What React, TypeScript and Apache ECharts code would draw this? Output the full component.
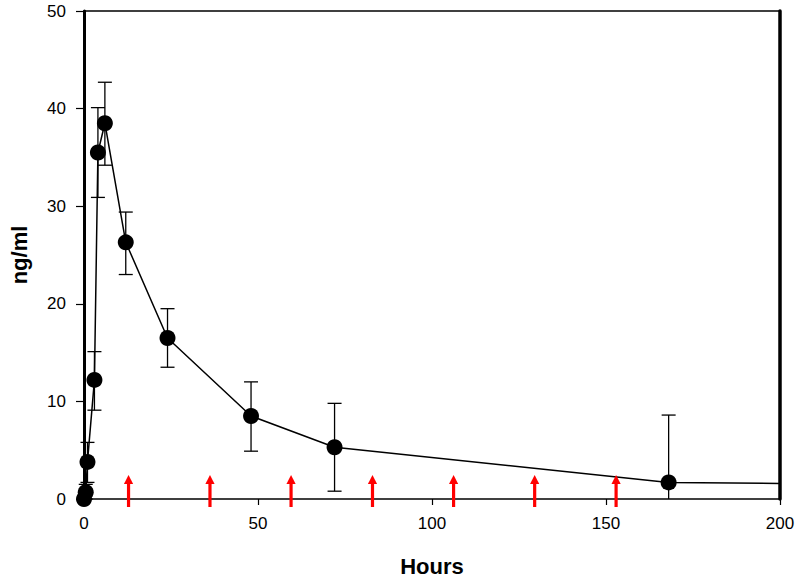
import React, { useEffect, useRef } from "react";
import * as echarts from "echarts";

const hours = [0, 0.5, 1, 3, 4, 6, 12, 24, 48, 72, 168, 200];
const conc = [0, 0.7, 3.8, 12.2, 35.5, 38.5, 26.3, 16.5, 8.5, 5.3, 1.7, 1.6];
const errLow = [0, 0, 1.7, 9.1, 30.9, 34.2, 23.0, 13.5, 4.9, 0.8, -5.2, null];
const errHigh = [0, 1.5, 5.8, 15.1, 40.1, 42.7, 29.4, 19.5, 12.0, 9.8, 8.6, null];
const doseHours = [12.8, 36.2, 59.5, 82.9, 106.2, 129.5, 152.9];
const xTicks = [0, 50, 100, 150, 200];
const yTicks = [0, 10, 20, 30, 40, 50];

const FONT = "Liberation Sans, Arial, sans-serif";

export default function App() {
  const ref = useRef<HTMLDivElement>(null);
  useEffect(() => {
    if (!ref.current) return;
    const chart = echarts.init(ref.current, undefined, { renderer: "svg" });

    const lineData = hours.map((h, i) =>
      i === hours.length - 1 ? { value: [h, conc[i]], symbol: "none" } : { value: [h, conc[i]] }
    );
    const errData: number[][] = [];
    hours.forEach((h, i) => {
      if (errLow[i] !== null && errHigh[i] !== null && i > 0) errData.push([h, errLow[i] as number, errHigh[i] as number]);
    });

    chart.setOption({
      animation: false,
      backgroundColor: "#ffffff",
      grid: { left: 82, right: 20, top: 11, bottom: 82, show: false },
      xAxis: [
        {
          type: "value",
          min: xTicks[0],
          max: xTicks[xTicks.length - 1],
          interval: 50,
          name: "Hours",
          nameLocation: "middle",
          nameGap: 56,
          nameTextStyle: { fontFamily: FONT, fontSize: 22, fontWeight: "bold", color: "#000" },
          axisLine: { show: true, onZero: false, lineStyle: { color: "#000", width: 1.5 } },
          axisTick: { show: true, inside: false, length: 6, lineStyle: { color: "#000", width: 1.2 } },
          axisLabel: { fontFamily: FONT, fontSize: 17, color: "#000", margin: 16 },
          splitLine: { show: false },
        },
        {
          type: "value",
          position: "top",
          min: 0,
          max: 200,
          axisLine: { show: true, onZero: false, lineStyle: { color: "#000", width: 1.5 } },
          axisTick: { show: false },
          axisLabel: { show: false },
          splitLine: { show: false },
        },
      ],
      yAxis: [
        {
          type: "value",
          min: yTicks[0],
          max: yTicks[yTicks.length - 1],
          interval: 10,
          name: "ng/ml",
          nameLocation: "middle",
          nameGap: 54,
          nameTextStyle: { fontFamily: FONT, fontSize: 22, fontWeight: "bold", color: "#000" },
          axisLine: { show: true, onZero: false, lineStyle: { color: "#000", width: 3 } },
          axisTick: { show: true, inside: false, length: 8, lineStyle: { color: "#000", width: 1.2 } },
          axisLabel: { fontFamily: FONT, fontSize: 17, color: "#000", margin: 18 },
          splitLine: { show: false },
        },
        {
          type: "value",
          position: "right",
          min: 0,
          max: 50,
          axisLine: { show: true, onZero: false, lineStyle: { color: "#000", width: 3.5 } },
          axisTick: { show: false },
          axisLabel: { show: false },
          splitLine: { show: false },
        },
      ],
      series: [
        {
          type: "custom",
          name: "err",
          xAxisIndex: 0,
          yAxisIndex: 0,
          z: 2,
          data: errData,
          renderItem: (params: any, api: any) => {
            const cs = params.coordSys;
            const x = api.value(0);
            const lo = api.coord([x, api.value(1)]);
            const hi = api.coord([x, api.value(2)]);
            const bottom = cs.y + cs.height;
            const loY = Math.min(lo[1], bottom);
            const px = lo[0];
            const cw = 7;
            const children: any[] = [
              { type: "line", shape: { x1: px, y1: loY, x2: px, y2: hi[1] }, style: { stroke: "#000", lineWidth: 1.3 } },
              { type: "line", shape: { x1: px - cw, y1: hi[1], x2: px + cw, y2: hi[1] }, style: { stroke: "#000", lineWidth: 1.3 } },
            ];
            if (lo[1] <= bottom) {
              children.push({ type: "line", shape: { x1: px - cw, y1: loY, x2: px + cw, y2: loY }, style: { stroke: "#000", lineWidth: 1.3 } });
            }
            return { type: "group", children };
          },
        },
        {
          type: "line",
          name: "conc",
          xAxisIndex: 0,
          yAxisIndex: 0,
          z: 3,
          data: lineData,
          symbol: "circle",
          symbolSize: 16,
          showSymbol: true,
          itemStyle: { color: "#000" },
          lineStyle: { color: "#000", width: 1.5 },
          clip: false,
        },
        {
          type: "custom",
          name: "dose",
          xAxisIndex: 0,
          yAxisIndex: 0,
          z: 4,
          clip: false,
          data: doseHours.map((h) => [h, 0]),
          renderItem: (params: any, api: any) => {
            const p = api.coord([api.value(0), 0]);
            const x = p[0];
            const y0 = p[1];
            return {
              type: "group",
              children: [
                { type: "rect", shape: { x: x - 1.6, y: y0 - 16, width: 3.2, height: 24 }, style: { fill: "#ff0000" } },
                { type: "polygon", shape: { points: [[x - 4.6, y0 - 15], [x + 4.6, y0 - 15], [x, y0 - 24]] }, style: { fill: "#ff0000" } },
              ],
            };
          },
        },
      ],
    });
    return () => chart.dispose();
  }, []);
  return <div ref={ref} style={{ width: 800, height: 582, position: "absolute", left: 0, top: 0 }} />;
}
